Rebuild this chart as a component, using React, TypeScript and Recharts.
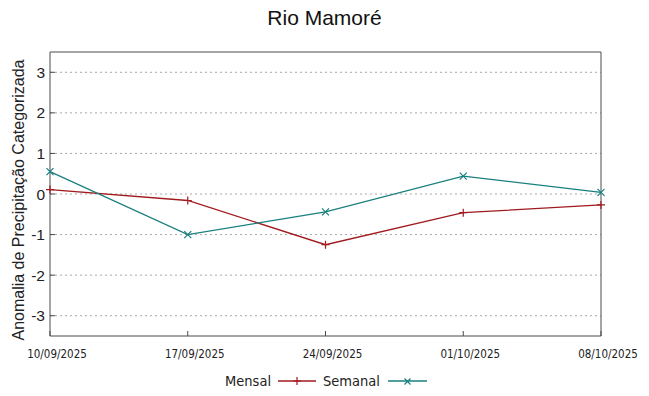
import { LineChart, Line, XAxis, YAxis, CartesianGrid } from 'recharts';

const dates = ['10/09/2025', '17/09/2025', '24/09/2025', '01/10/2025', '08/10/2025'];
const mensal = [0.11, -0.16, -1.25, -0.46, -0.27];
const semanal = [0.55, -1.0, -0.44, 0.44, 0.04];
const yTicks = [-3, -2, -1, 0, 1, 2, 3];

const RED = '#a01a1e';
const TEAL = '#1a7f7f';
const FRAME = '#4a4a4a';
const NARROW = '"Liberation Sans Narrow", "DejaVu Sans Condensed", "Liberation Sans", sans-serif';

const data = dates.map((d, i) => ({ date: d, mensal: mensal[i], semanal: semanal[i] }));

const PlusDot = (props: any) => {
  const { cx, cy } = props;
  if (cx == null || cy == null) return null;
  return (
    <path
      d={`M${cx - 4},${cy}H${cx + 4}M${cx},${cy - 4}V${cy + 4}`}
      stroke={RED}
      strokeWidth={1.2}
      fill="none"
    />
  );
};

const CrossDot = (props: any) => {
  const { cx, cy } = props;
  if (cx == null || cy == null) return null;
  return (
    <path
      d={`M${cx - 3.5},${cy - 3.5}L${cx + 3.5},${cy + 3.5}M${cx - 3.5},${cy + 3.5}L${cx + 3.5},${cy - 3.5}`}
      stroke={TEAL}
      strokeWidth={1.2}
      fill="none"
    />
  );
};

export default function App() {
  return (
    <div style={{ position: 'relative', width: 649, height: 396, margin: -8, background: '#fff', fontFamily: '"Liberation Sans", Arial, sans-serif' }}>
      <div style={{ position: 'absolute', top: 6, left: 0, width: 649, textAlign: 'center', fontSize: 21, color: '#111' }}>
        Rio Mamoré
      </div>

      <LineChart width={649} height={396} data={data} margin={{ top: 51, right: 47, bottom: 30, left: 0 }}>
        <CartesianGrid
          xAxisId="bottom"
          yAxisId="left"
          vertical={false}
          stroke="#a8a8a8"
          strokeDasharray="2 3"
          horizontalValues={yTicks}
        />
        <XAxis
          dataKey="date"
          xAxisId="bottom"
          height={30}
          stroke={FRAME}
          tickSize={-5}
          tickMargin={19}
          tick={{ fill: '#222', fontSize: 11.5, fontFamily: NARROW, dx: 7 }}
          interval={0}
        />
        <XAxis
          dataKey="date"
          xAxisId="top"
          orientation="top"
          height={1}
          stroke={FRAME}
          tickSize={-5}
          tick={false}
          interval={0}
        />
        <YAxis
          yAxisId="left"
          width={50}
          domain={[-3.5, 3.5]}
          ticks={yTicks}
          stroke={FRAME}
          tickSize={-5}
          tickMargin={10}
          tick={{ fill: '#222', fontSize: 15.5 }}
          label={{
            value: 'Anomalia de Precipitação Categorizada',
            angle: -90,
            position: 'insideLeft',
            dx: 13,
            dy: 6,
            style: { textAnchor: 'middle', fontSize: 16, fill: '#222' },
          }}
        />
        <YAxis
          yAxisId="right"
          orientation="right"
          width={1}
          domain={[-3.5, 3.5]}
          ticks={yTicks}
          stroke={FRAME}
          tickSize={-5}
          tick={false}
        />
        <Line
          xAxisId="bottom"
          yAxisId="left"
          dataKey="mensal"
          stroke={RED}
          strokeWidth={1.3}
          dot={<PlusDot />}
          activeDot={false}
          isAnimationActive={false}
        />
        <Line
          xAxisId="bottom"
          yAxisId="left"
          dataKey="semanal"
          stroke={TEAL}
          strokeWidth={1.3}
          dot={<CrossDot />}
          activeDot={false}
          isAnimationActive={false}
        />
      </LineChart>

      <div style={{ position: 'absolute', top: 373, left: 0, width: 649, display: 'flex', justifyContent: 'center', alignItems: 'center', fontFamily: NARROW, fontSize: 14.5, color: '#222' }}>
        <span style={{ marginLeft: 8 }}>Mensal</span>
        <svg width={52} height={14}>
          <line x1={7} y1={7} x2={45} y2={7} stroke={RED} strokeWidth={1.3} />
          <path d="M26,3V11M22,7H30" stroke={RED} strokeWidth={1.2} />
        </svg>
        <span>Semanal</span>
        <svg width={52} height={14}>
          <line x1={8} y1={7} x2={47} y2={7} stroke={TEAL} strokeWidth={1.3} />
          <path d="M24.5,4.5L30.5,10.5M24.5,10.5L30.5,4.5" stroke={TEAL} strokeWidth={1.2} />
        </svg>
      </div>
    </div>
  );
}
